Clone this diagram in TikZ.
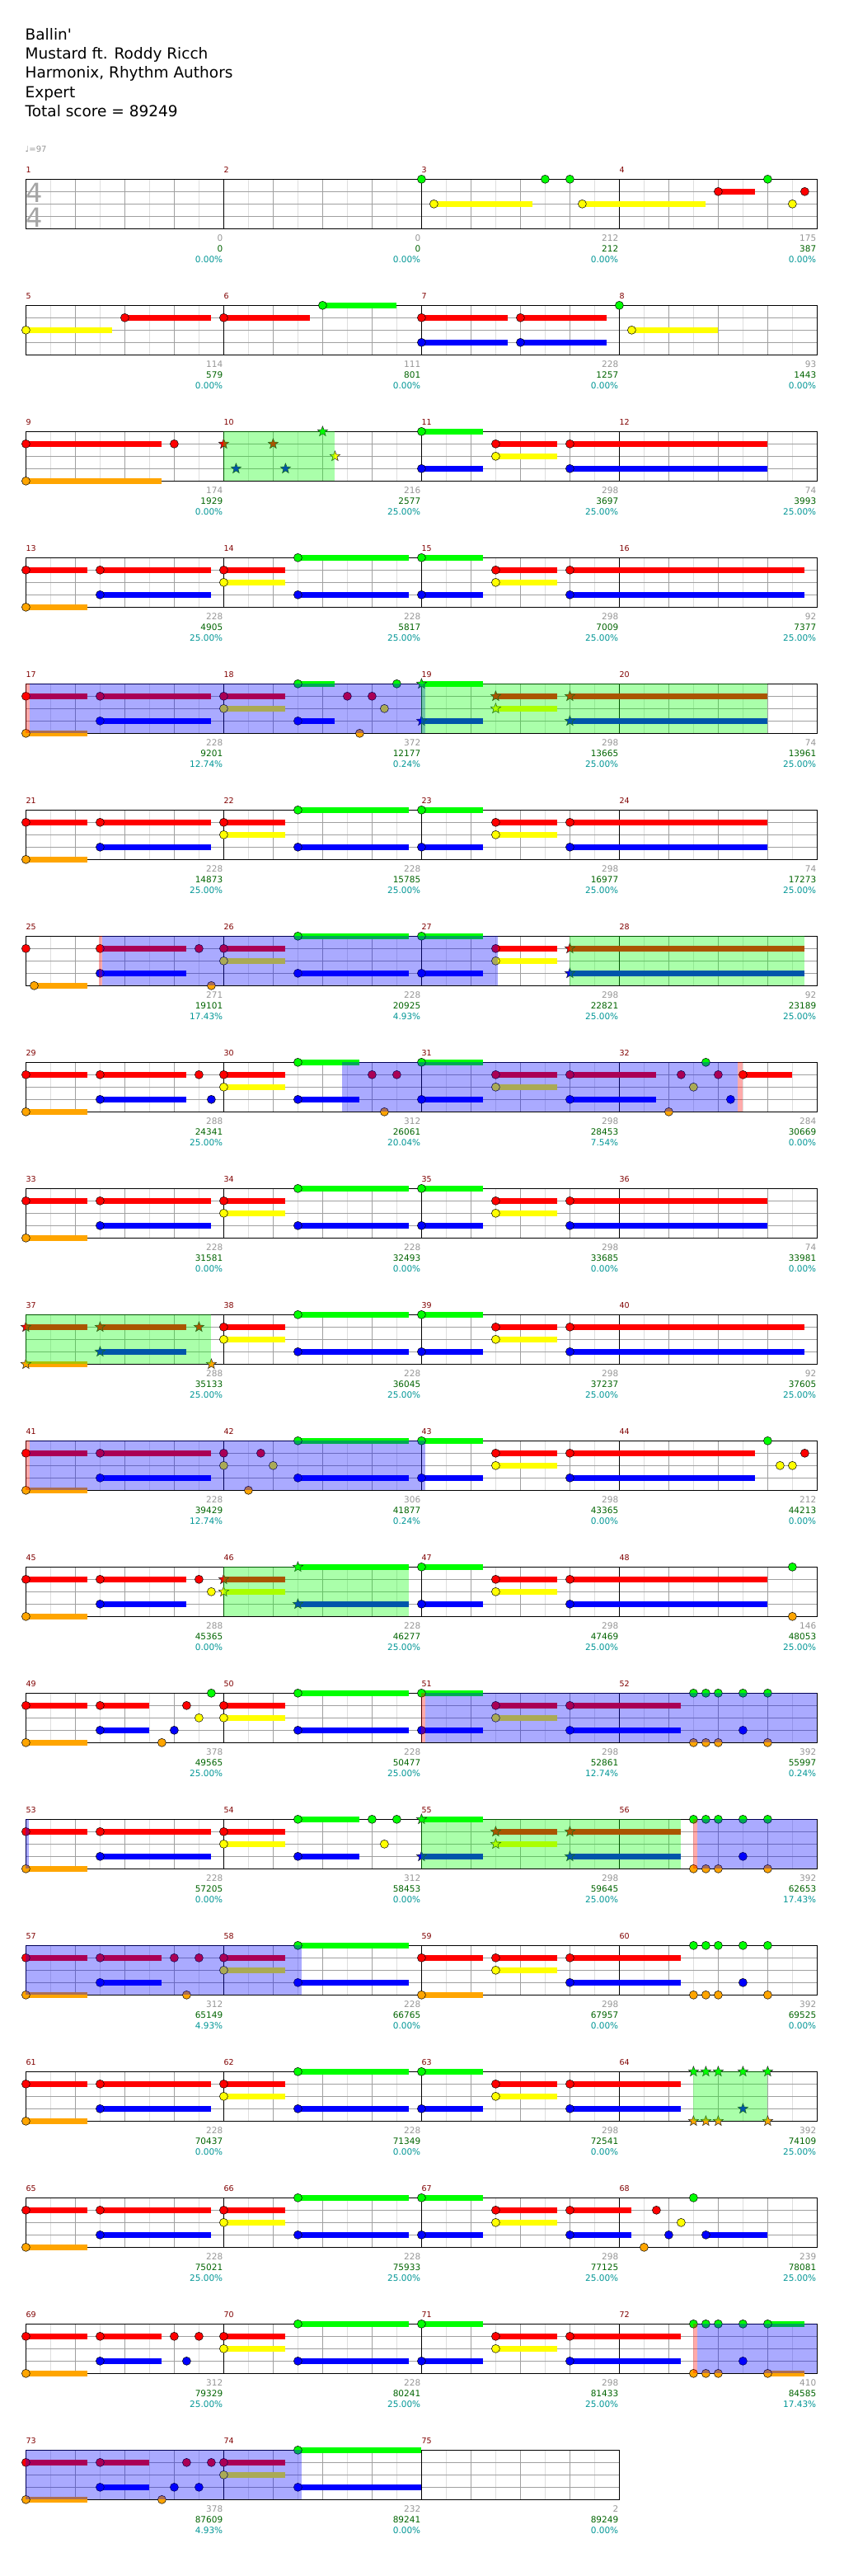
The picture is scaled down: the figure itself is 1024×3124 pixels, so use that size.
\documentclass[tikz,border=0pt]{standalone}
\usepackage{fontspec}
\newfontfamily\dv{DejaVu Sans}
\definecolor{ln0}{RGB}{0,255,0}
\definecolor{ln1}{RGB}{255,0,0}
\definecolor{ln2}{RGB}{255,255,0}
\definecolor{ln3}{RGB}{0,0,255}
\definecolor{ln4}{RGB}{255,165,0}
\definecolor{ovblue}{RGB}{0,0,255}
\definecolor{ovgreen}{RGB}{0,255,0}
\definecolor{ovred}{RGB}{255,0,0}
\definecolor{measnum}{RGB}{128,0,0}
\definecolor{ptsgrey}{RGB}{150,150,150}
\definecolor{ptsgreen}{RGB}{0,100,0}
\definecolor{ptsteal}{RGB}{0,150,150}
\definecolor{gridlt}{RGB}{222,222,222}
\definecolor{gridmd}{RGB}{160,160,160}
\definecolor{tsig}{RGB}{165,165,165}
\tikzset{
  notec/.style={draw=black,line width=0.5},
  starc/.style={draw=black!85,line width=0.5},
  lightln/.style={draw=gridlt,line width=0.8},
  midln/.style={draw=gridmd,line width=0.8},
  barln/.style={draw=black,line width=0.8},
  border/.style={draw=black,line width=1.2},
  ovl/.style={opacity=0.333},
  mnum/.style={font=\dv\fontsize{9.5}{11}\selectfont,text=measnum,inner sep=0,anchor=base west},
  pgrey/.style={font=\dv\fontsize{10.5}{12}\selectfont,text=ptsgrey,inner sep=0,anchor=base east},
  pgreen/.style={font=\dv\fontsize{10.5}{12}\selectfont,text=ptsgreen,inner sep=0,anchor=base east},
  pteal/.style={font=\dv\fontsize{10.5}{12}\selectfont,text=ptsteal,inner sep=0,anchor=base east},
  ttl/.style={font=\dv\fontsize{18.5}{22}\selectfont,text=black,inner sep=0,anchor=base west},
  tempo/.style={font=\dv\fontsize{10}{12}\selectfont,text=ptsgrey,inner sep=0,anchor=base west},
  tsnum/.style={font=\dv\fontsize{32}{36}\selectfont,text=tsig,inner sep=0,anchor=base west}
}
\newcommand\dLy[2]{(217.3+153*(#1-1)+15*(#2))}
\newcommand\dPx[1]{(31.4+15*(#1))}
\newcommand\dNote[3]{\draw[notec,fill=ln#2] ({\dPx{#3}},{\dLy{#1}{#2}}) circle (5);}
\newcommand\dSus[4]{\fill[ln#2] ({\dPx{#3}},{\dLy{#1}{#2}-3.5}) rectangle ({\dPx{#4}},{\dLy{#1}{#2}+3.5});\dNote{#1}{#2}{#3}}
\newcommand\dStar[3]{\filldraw[starc,fill=ln#2] ({\dPx{#3}},{\dLy{#1}{#2}}) +(-90:6.5) -- +(-54:2.7) -- +(-18:6.5) -- +(18:2.7) -- +(54:6.5) -- +(90:2.7) -- +(126:6.5) -- +(162:2.7) -- +(198:6.5) -- +(234:2.7) -- cycle;}
\newcommand\dSStar[4]{\fill[ln#2] ({\dPx{#3}},{\dLy{#1}{#2}-3.5}) rectangle ({\dPx{#4}},{\dLy{#1}{#2}+3.5});\dStar{#1}{#2}{#3}}
\newcommand\dOv[4]{\fill[#4,ovl] ({\dPx{#2}},{\dLy{#1}{0}}) rectangle ({\dPx{#3}},{\dLy{#1}{4}});}
\newcommand\dGrid[2]{%
  \pgfmathsetmacro\gty{217.3+153*(#1-1)}%
  \pgfmathtruncatemacro\gnl{8*#2-1}%
  \pgfmathtruncatemacro\gnm{#2-1}%
  \pgfmathsetmacro\gxe{31.4+240*#2}%
  \foreach \i in {1,3,...,\gnl} \draw[lightln] ({31.4+30*\i},\gty) -- ++(0,60);
  \foreach \m in {1,...,#2} \foreach \q in {2,4,6} \draw[midln] ({31.4+240*(\m-1)+30*\q},\gty) -- ++(0,60);
  \foreach \l in {1,2,3} \draw[midln] (31.4,{\gty+15*\l}) -- (\gxe,{\gty+15*\l});
  \foreach \m in {1,...,\gnm} \draw[barln] ({31.4+240*\m},\gty) -- ++(0,60);
  \draw[border] (31.4,\gty) rectangle (\gxe,{\gty+60});
  \foreach \m in {0,...,\gnm} {\pgfmathtruncatemacro\mn{4*(#1-1)+\m+1}\node[mnum] (mn-\mn) at ({31.4+240*\m},{\gty-8.3}) {\mn};}
}
\newcommand\dSc[5]{%
  \pgfmathsetmacro\sty{217.3+153*(#1-1)}%
  \pgfmathsetmacro\sxr{31.4+240*#2-1}%
  \node[pgrey] (sg-#1-#2) at (\sxr,{\sty+75.4}) {#3};
  \node[pgreen] (sc-#1-#2) at (\sxr,{\sty+88.2}) {#4};
  \node[pteal] (sp-#1-#2) at (\sxr,{\sty+101.5}) {#5\%};
}
\newcommand\dPatA[2]{\dSus{#1}{1}{0}{5}\dSus{#1}{4}{0}{5}\dSus{#1}{1}{6}{15}\dSus{#1}{3}{6}{15}\dSus{#1}{1}{16}{21}\dSus{#1}{2}{16}{21}\dSus{#1}{0}{22}{31}\dSus{#1}{3}{22}{31}\dSus{#1}{0}{32}{37}\dSus{#1}{3}{32}{37}\dSus{#1}{1}{38}{43}\dSus{#1}{2}{38}{43}\dSus{#1}{1}{44}{#2}\dSus{#1}{3}{44}{#2}}
\newcommand\dGO[1]{\dNote{#1}{0}{54}\dNote{#1}{4}{54}\dNote{#1}{0}{55}\dNote{#1}{4}{55}\dNote{#1}{0}{56}\dNote{#1}{4}{56}\dNote{#1}{0}{58}\dNote{#1}{3}{58}\dNote{#1}{0}{60}\dNote{#1}{4}{60}}
\begin{document}
\begin{tikzpicture}[x=1pt,y=-1pt]
\useasboundingbox (0,0) rectangle (1024,3124);
\fill[white] (0,0) rectangle (1024,3124);
% header
\node[ttl] (t1) at (30.5,48.3) {Ballin'};
\node[ttl] (t2) at (30.5,71.6) {Mustard ft. Roddy Ricch};
\node[ttl] (t3) at (30.5,94.9) {Harmonix, Rhythm Authors};
\node[ttl] (t4) at (30.5,118.2) {Expert};
\node[ttl] (t5) at (30.5,141.5) {Total score = 89249};
\node[tempo] (tp) at (30.5,184) {♩=97};
% row 1
\dGrid{1}{4}
\node[tsnum] (ts1) at (31,245) {4};
\node[tsnum] (ts2) at (31,275) {4};
\dNote{1}{0}{32}\dNote{1}{0}{42}\dNote{1}{0}{44}\dNote{1}{0}{60}
\dSus{1}{1}{56}{59}\dNote{1}{1}{63}
\dSus{1}{2}{33}{41}\dSus{1}{2}{45}{55}\dNote{1}{2}{62}
\dSc{1}{1}{0}{0}{0.00}\dSc{1}{2}{0}{0}{0.00}\dSc{1}{3}{212}{212}{0.00}\dSc{1}{4}{175}{387}{0.00}
% row 2
\dGrid{2}{4}
\dSus{2}{0}{24}{30}\dNote{2}{0}{48}
\dSus{2}{1}{8}{15}\dSus{2}{1}{16}{23}\dSus{2}{1}{32}{39}\dSus{2}{1}{40}{47}
\dSus{2}{2}{0}{7}\dSus{2}{2}{49}{56}
\dSus{2}{3}{32}{39}\dSus{2}{3}{40}{47}
\dSc{2}{1}{114}{579}{0.00}\dSc{2}{2}{111}{801}{0.00}\dSc{2}{3}{228}{1257}{0.00}\dSc{2}{4}{93}{1443}{0.00}
% row 3
\dGrid{3}{4}
\dSus{3}{1}{0}{11}\dNote{3}{1}{12}\dStar{3}{1}{16}\dStar{3}{1}{20}\dSus{3}{1}{38}{43}\dSus{3}{1}{44}{60}
\dStar{3}{0}{24}\dSus{3}{0}{32}{37}
\dStar{3}{2}{25}\dSus{3}{2}{38}{43}
\dStar{3}{3}{17}\dStar{3}{3}{21}\dSus{3}{3}{32}{37}\dSus{3}{3}{44}{60}
\dSus{3}{4}{0}{11}
\dOv{3}{16}{25}{ovgreen}
\dSc{3}{1}{174}{1929}{0.00}\dSc{3}{2}{216}{2577}{25.00}\dSc{3}{3}{298}{3697}{25.00}\dSc{3}{4}{74}{3993}{25.00}
% row 4
\dGrid{4}{4}
\dPatA{4}{63}
\dSc{4}{1}{228}{4905}{25.00}\dSc{4}{2}{228}{5817}{25.00}\dSc{4}{3}{298}{7009}{25.00}\dSc{4}{4}{92}{7377}{25.00}
% row 5
\dGrid{5}{4}
\dSus{5}{1}{0}{5}\dSus{5}{4}{0}{5}\dSus{5}{1}{6}{15}\dSus{5}{3}{6}{15}\dSus{5}{1}{16}{21}\dSus{5}{2}{16}{21}
\dSus{5}{0}{22}{25}\dSus{5}{3}{22}{25}\dNote{5}{1}{26}\dNote{5}{4}{27}\dNote{5}{1}{28}\dNote{5}{2}{29}\dNote{5}{0}{30}
\dSStar{5}{0}{32}{37}\dSStar{5}{3}{32}{37}\dSStar{5}{1}{38}{43}\dSStar{5}{2}{38}{43}\dSStar{5}{1}{44}{60}\dSStar{5}{3}{44}{60}
\dOv{5}{0}{0.3}{ovred}\dOv{5}{0.3}{32.3}{ovblue}\dOv{5}{32}{60}{ovgreen}
\dSc{5}{1}{228}{9201}{12.74}\dSc{5}{2}{372}{12177}{0.24}\dSc{5}{3}{298}{13665}{25.00}\dSc{5}{4}{74}{13961}{25.00}
% row 6
\dGrid{6}{4}
\dPatA{6}{60}
\dSc{6}{1}{228}{14873}{25.00}\dSc{6}{2}{228}{15785}{25.00}\dSc{6}{3}{298}{16977}{25.00}\dSc{6}{4}{74}{17273}{25.00}
% row 7
\dGrid{7}{4}
\dNote{7}{1}{0}\dSus{7}{4}{0.67}{5}\dSus{7}{1}{6}{13}\dSus{7}{3}{6}{13}\dNote{7}{1}{14}\dNote{7}{4}{15}
\dSus{7}{1}{16}{21}\dSus{7}{2}{16}{21}\dSus{7}{0}{22}{31}\dSus{7}{3}{22}{31}\dSus{7}{0}{32}{37}\dSus{7}{3}{32}{37}
\dSus{7}{1}{38}{43}\dSus{7}{2}{38}{43}\dSStar{7}{1}{44}{63}\dSStar{7}{3}{44}{63}
\dOv{7}{5.9}{6.2}{ovred}\dOv{7}{6.2}{38.2}{ovblue}\dOv{7}{44}{63}{ovgreen}
\dSc{7}{1}{271}{19101}{17.43}\dSc{7}{2}{228}{20925}{4.93}\dSc{7}{3}{298}{22821}{25.00}\dSc{7}{4}{92}{23189}{25.00}
% row 8
\dGrid{8}{4}
\dSus{8}{1}{0}{5}\dSus{8}{4}{0}{5}\dSus{8}{1}{6}{13}\dSus{8}{3}{6}{13}\dNote{8}{1}{14}\dNote{8}{3}{15}
\dSus{8}{1}{16}{21}\dSus{8}{2}{16}{21}\dSus{8}{0}{22}{27}\dSus{8}{3}{22}{27}\dNote{8}{1}{28}\dNote{8}{4}{29}\dNote{8}{1}{30}
\dSus{8}{0}{32}{37}\dSus{8}{3}{32}{37}\dSus{8}{1}{38}{43}\dSus{8}{2}{38}{43}\dSus{8}{1}{44}{51}\dSus{8}{3}{44}{51}
\dNote{8}{4}{52}\dNote{8}{1}{53}\dNote{8}{2}{54}\dNote{8}{0}{55}\dNote{8}{1}{56}\dNote{8}{3}{57}\dSus{8}{1}{58}{62}
\dOv{8}{25.55}{57.55}{ovblue}\dOv{8}{57.55}{58}{ovred}
\dSc{8}{1}{288}{24341}{25.00}\dSc{8}{2}{312}{26061}{20.04}\dSc{8}{3}{298}{28453}{7.54}\dSc{8}{4}{284}{30669}{0.00}
% row 9
\dGrid{9}{4}
\dPatA{9}{60}
\dSc{9}{1}{228}{31581}{0.00}\dSc{9}{2}{228}{32493}{0.00}\dSc{9}{3}{298}{33685}{0.00}\dSc{9}{4}{74}{33981}{0.00}
% row 10
\dGrid{10}{4}
\dSStar{10}{1}{0}{5}\dSStar{10}{4}{0}{5}\dSStar{10}{1}{6}{13}\dSStar{10}{3}{6}{13}\dStar{10}{1}{14}\dStar{10}{4}{15}
\dSus{10}{1}{16}{21}\dSus{10}{2}{16}{21}\dSus{10}{0}{22}{31}\dSus{10}{3}{22}{31}\dSus{10}{0}{32}{37}\dSus{10}{3}{32}{37}\dSus{10}{1}{38}{43}\dSus{10}{2}{38}{43}\dSus{10}{1}{44}{63}\dSus{10}{3}{44}{63}
\dOv{10}{0}{15}{ovgreen}
\dSc{10}{1}{288}{35133}{25.00}\dSc{10}{2}{228}{36045}{25.00}\dSc{10}{3}{298}{37237}{25.00}\dSc{10}{4}{92}{37605}{25.00}
% row 11
\dGrid{11}{4}
\dSus{11}{1}{0}{5}\dSus{11}{4}{0}{5}\dSus{11}{1}{6}{15}\dSus{11}{3}{6}{15}\dNote{11}{1}{16}\dNote{11}{2}{16}\dNote{11}{4}{18}\dNote{11}{1}{19}\dNote{11}{2}{20}
\dSus{11}{0}{22}{31}\dSus{11}{3}{22}{31}\dSus{11}{0}{32}{37}\dSus{11}{3}{32}{37}\dSus{11}{1}{38}{43}\dSus{11}{2}{38}{43}\dSus{11}{1}{44}{59}\dSus{11}{3}{44}{59}
\dNote{11}{0}{60}\dNote{11}{2}{61}\dNote{11}{2}{62}\dNote{11}{1}{63}
\dOv{11}{0}{0.3}{ovred}\dOv{11}{0.3}{32.3}{ovblue}
\dSc{11}{1}{228}{39429}{12.74}\dSc{11}{2}{306}{41877}{0.24}\dSc{11}{3}{298}{43365}{0.00}\dSc{11}{4}{212}{44213}{0.00}
% row 12
\dGrid{12}{4}
\dSus{12}{1}{0}{5}\dSus{12}{4}{0}{5}\dSus{12}{1}{6}{13}\dSus{12}{3}{6}{13}\dNote{12}{1}{14}\dNote{12}{2}{15}
\dSStar{12}{1}{16}{21}\dSStar{12}{2}{16}{21}\dSStar{12}{0}{22}{31}\dSStar{12}{3}{22}{31}
\dSus{12}{0}{32}{37}\dSus{12}{3}{32}{37}\dSus{12}{1}{38}{43}\dSus{12}{2}{38}{43}\dSus{12}{1}{44}{60}\dSus{12}{3}{44}{60}
\dNote{12}{0}{62}\dNote{12}{4}{62}
\dOv{12}{16}{31}{ovgreen}
\dSc{12}{1}{288}{45365}{0.00}\dSc{12}{2}{228}{46277}{25.00}\dSc{12}{3}{298}{47469}{25.00}\dSc{12}{4}{146}{48053}{25.00}
% row 13
\dGrid{13}{4}
\dSus{13}{1}{0}{5}\dSus{13}{4}{0}{5}\dSus{13}{1}{6}{10}\dSus{13}{3}{6}{10}\dNote{13}{4}{11}\dNote{13}{3}{12}\dNote{13}{1}{13}\dNote{13}{2}{14}\dNote{13}{0}{15}
\dSus{13}{1}{16}{21}\dSus{13}{2}{16}{21}\dSus{13}{0}{22}{31}\dSus{13}{3}{22}{31}\dSus{13}{0}{32}{37}\dSus{13}{3}{32}{37}\dSus{13}{1}{38}{43}\dSus{13}{2}{38}{43}\dSus{13}{1}{44}{53}\dSus{13}{3}{44}{53}
\dGO{13}
\dOv{13}{32}{32.3}{ovred}\dOv{13}{32.3}{64}{ovblue}
\dSc{13}{1}{378}{49565}{25.00}\dSc{13}{2}{228}{50477}{25.00}\dSc{13}{3}{298}{52861}{12.74}\dSc{13}{4}{392}{55997}{0.24}
% row 14
\dGrid{14}{4}
\dSus{14}{1}{0}{5}\dSus{14}{4}{0}{5}\dSus{14}{1}{6}{15}\dSus{14}{3}{6}{15}\dSus{14}{1}{16}{21}\dSus{14}{2}{16}{21}
\dSus{14}{0}{22}{27}\dSus{14}{3}{22}{27}\dNote{14}{0}{28}\dNote{14}{2}{29}\dNote{14}{0}{30}
\dSStar{14}{0}{32}{37}\dSStar{14}{3}{32}{37}\dSStar{14}{1}{38}{43}\dSStar{14}{2}{38}{43}\dSStar{14}{1}{44}{53}\dSStar{14}{3}{44}{53}
\dGO{14}
\dOv{14}{0}{0.27}{ovblue}\dOv{14}{32}{53}{ovgreen}\dOv{14}{54}{54.3}{ovred}\dOv{14}{54.3}{64}{ovblue}
\dSc{14}{1}{228}{57205}{0.00}\dSc{14}{2}{312}{58453}{0.00}\dSc{14}{3}{298}{59645}{25.00}\dSc{14}{4}{392}{62653}{17.43}
% row 15
\dGrid{15}{4}
\dSus{15}{1}{0}{5}\dSus{15}{4}{0}{5}\dSus{15}{1}{6}{11}\dSus{15}{3}{6}{11}\dNote{15}{1}{12}\dNote{15}{4}{13}\dNote{15}{1}{14}
\dSus{15}{1}{16}{21}\dSus{15}{2}{16}{21}\dSus{15}{0}{22}{31}\dSus{15}{3}{22}{31}\dSus{15}{1}{32}{37}\dSus{15}{4}{32}{37}\dSus{15}{1}{38}{43}\dSus{15}{2}{38}{43}\dSus{15}{1}{44}{53}\dSus{15}{3}{44}{53}
\dGO{15}
\dOv{15}{0}{22.3}{ovblue}
\dSc{15}{1}{312}{65149}{4.93}\dSc{15}{2}{228}{66765}{0.00}\dSc{15}{3}{298}{67957}{0.00}\dSc{15}{4}{392}{69525}{0.00}
% row 16
\dGrid{16}{4}
\dSus{16}{1}{0}{5}\dSus{16}{4}{0}{5}\dSus{16}{1}{6}{15}\dSus{16}{3}{6}{15}\dSus{16}{1}{16}{21}\dSus{16}{2}{16}{21}\dSus{16}{0}{22}{31}\dSus{16}{3}{22}{31}\dSus{16}{0}{32}{37}\dSus{16}{3}{32}{37}\dSus{16}{1}{38}{43}\dSus{16}{2}{38}{43}\dSus{16}{1}{44}{53}\dSus{16}{3}{44}{53}
\dStar{16}{0}{54}\dStar{16}{4}{54}\dStar{16}{0}{55}\dStar{16}{4}{55}\dStar{16}{0}{56}\dStar{16}{4}{56}\dStar{16}{0}{58}\dStar{16}{3}{58}\dStar{16}{0}{60}\dStar{16}{4}{60}
\dOv{16}{54}{60}{ovgreen}
\dSc{16}{1}{228}{70437}{0.00}\dSc{16}{2}{228}{71349}{0.00}\dSc{16}{3}{298}{72541}{0.00}\dSc{16}{4}{392}{74109}{25.00}
% row 17
\dGrid{17}{4}
\dSus{17}{1}{0}{5}\dSus{17}{4}{0}{5}\dSus{17}{1}{6}{15}\dSus{17}{3}{6}{15}\dSus{17}{1}{16}{21}\dSus{17}{2}{16}{21}\dSus{17}{0}{22}{31}\dSus{17}{3}{22}{31}\dSus{17}{0}{32}{37}\dSus{17}{3}{32}{37}\dSus{17}{1}{38}{43}\dSus{17}{2}{38}{43}\dSus{17}{1}{44}{49}\dSus{17}{3}{44}{49}
\dNote{17}{4}{50}\dNote{17}{1}{51}\dNote{17}{3}{52}\dNote{17}{2}{53}\dNote{17}{0}{54}\dSus{17}{3}{55}{60}
\dSc{17}{1}{228}{75021}{25.00}\dSc{17}{2}{228}{75933}{25.00}\dSc{17}{3}{298}{77125}{25.00}\dSc{17}{4}{239}{78081}{25.00}
% row 18
\dGrid{18}{4}
\dSus{18}{1}{0}{5}\dSus{18}{4}{0}{5}\dSus{18}{1}{6}{11}\dSus{18}{3}{6}{11}\dNote{18}{1}{12}\dNote{18}{3}{13}\dNote{18}{1}{14}
\dSus{18}{1}{16}{21}\dSus{18}{2}{16}{21}\dSus{18}{0}{22}{31}\dSus{18}{3}{22}{31}\dSus{18}{0}{32}{37}\dSus{18}{3}{32}{37}\dSus{18}{1}{38}{43}\dSus{18}{2}{38}{43}\dSus{18}{1}{44}{53}\dSus{18}{3}{44}{53}
\dNote{18}{0}{54}\dNote{18}{4}{54}\dNote{18}{0}{55}\dNote{18}{4}{55}\dNote{18}{0}{56}\dNote{18}{4}{56}\dNote{18}{0}{58}\dNote{18}{3}{58}\dSus{18}{0}{60}{63}\dSus{18}{4}{60}{63}
\dOv{18}{54}{54.3}{ovred}\dOv{18}{54.3}{64}{ovblue}
\dSc{18}{1}{312}{79329}{25.00}\dSc{18}{2}{228}{80241}{25.00}\dSc{18}{3}{298}{81433}{25.00}\dSc{18}{4}{410}{84585}{17.43}
% row 19
\dGrid{19}{3}
\dSus{19}{1}{0}{5}\dSus{19}{4}{0}{5}\dSus{19}{1}{6}{10}\dSus{19}{3}{6}{10}\dNote{19}{4}{11}\dNote{19}{3}{12}\dNote{19}{1}{13}\dNote{19}{3}{14}\dNote{19}{1}{15}
\dSus{19}{1}{16}{21}\dSus{19}{2}{16}{21}\dSus{19}{0}{22}{32}\dSus{19}{3}{22}{32}
\dOv{19}{0}{22.3}{ovblue}
\dSc{19}{1}{378}{87609}{4.93}\dSc{19}{2}{232}{89241}{0.00}\dSc{19}{3}{2}{89249}{0.00}
\end{tikzpicture}
\end{document}
